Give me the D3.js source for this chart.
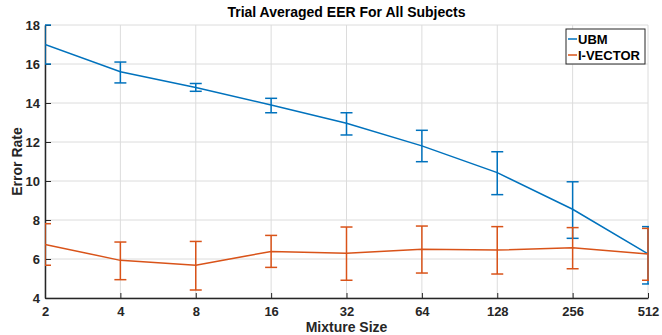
<!DOCTYPE html>
<html><head><meta charset="utf-8">
<script src="https://cdn.jsdelivr.net/npm/d3@7"></script>
<style>body{margin:0;background:#fff}svg{display:block}text{font-family:"Liberation Sans",Arial,sans-serif;font-weight:bold}</style>
</head><body><svg id="c" width="662" height="335"></svg>
<script>
const mixtureSizes = [2, 4, 8, 16, 32, 64, 128, 256, 512];
const ubmMean  = [17.0, 15.6, 14.8, 13.9, 12.96, 11.8, 10.43, 8.55, 6.26];
const ubmUpper = [18.0, 16.1, 15.0, 14.24, 13.5, 12.6, 11.5, 9.96, 7.66];
const ubmLower = [16.0, 15.03, 14.6, 13.5, 12.36, 10.99, 9.3, 7.06, 4.72];
const ivMean   = [6.75, 5.93, 5.68, 6.39, 6.29, 6.5, 6.46, 6.58, 6.26];
const ivUpper  = [7.81, 6.87, 6.9, 7.21, 7.64, 7.69, 7.66, 7.61, 7.57];
const ivLower  = [5.68, 4.94, 4.41, 5.57, 4.91, 5.28, 5.23, 5.5, 4.91];
const yTicks = [4, 6, 8, 10, 12, 14, 16, 18];
const seriesNames = ["UBM", "I-VECTOR"];
const seriesColors = ["#0072BD", "#D95319"];

const svg = d3.select("#c");
const L = 45, R = 648, T = 25, B = 298;
const x = d3.scaleLog().base(2).domain([2, 512]).range([L, R]);
const y = d3.scaleLinear().domain([4, 18]).range([B, T]);

// grid
const g = svg.append("g");
g.selectAll(".gx").data(mixtureSizes).enter().append("line")
  .attr("x1", d => x(d)).attr("x2", d => x(d)).attr("y1", T).attr("y2", B)
  .attr("stroke", "#dcdcdc").attr("stroke-width", 1);
g.selectAll(".gy").data(yTicks).enter().append("line")
  .attr("x1", L).attr("x2", R).attr("y1", d => y(d)).attr("y2", d => y(d))
  .attr("stroke", "#dcdcdc").attr("stroke-width", 1);

// axes
const xAxis = d3.axisBottom(x).tickValues(mixtureSizes).tickFormat(d3.format("d")).tickSizeInner(-5).tickSizeOuter(0).tickPadding(9);
const yAxis = d3.axisLeft(y).tickValues(yTicks).tickSizeInner(-6).tickSizeOuter(0).tickPadding(5);
const ax = svg.append("g").attr("transform", `translate(0,${B})`).call(xAxis);
const ay = svg.append("g").attr("transform", `translate(${L},0)`).call(yAxis);
[ax, ay].forEach(a => {
  a.select(".domain").attr("stroke", "#262626").attr("stroke-width", 1.5);
  a.selectAll(".tick line").attr("stroke", "#262626");
  a.selectAll(".tick text").attr("fill", "#262626").style("font-size", "13px").style("font-weight", "bold");
});
ay.selectAll(".tick text").attr("dy", "0.36em");

// clip
svg.append("clipPath").attr("id", "clip").append("rect")
  .attr("x", L).attr("y", T - 1).attr("width", R - L + 1).attr("height", B - T + 2);

const series = [
  {mean: ubmMean, up: ubmUpper, lo: ubmLower},
  {mean: ivMean, up: ivUpper, lo: ivLower}
];
const plot = svg.append("g").attr("clip-path", "url(#clip)");
const line = d3.line().x((d, i) => x(mixtureSizes[i])).y(d => y(d));
const cap = 6;
series.forEach((s, k) => {
  const col = seriesColors[k];
  const eg = plot.append("g").attr("stroke", col).attr("stroke-width", 1.5).attr("fill", "none");
  mixtureSizes.forEach((m, i) => {
    const cx = x(m);
    eg.append("line").attr("x1", cx).attr("x2", cx).attr("y1", y(s.up[i])).attr("y2", y(s.lo[i]));
    eg.append("line").attr("x1", cx - cap).attr("x2", cx + cap).attr("y1", y(s.up[i])).attr("y2", y(s.up[i]));
    eg.append("line").attr("x1", cx - cap).attr("x2", cx + cap).attr("y1", y(s.lo[i])).attr("y2", y(s.lo[i]));
  });
  plot.append("path").datum(s.mean).attr("d", line).attr("fill", "none").attr("stroke", col).attr("stroke-width", 1.5);
});

// title and labels
svg.append("text").attr("x", (L + R) / 2).attr("y", 17).attr("text-anchor", "middle")
  .style("font-size", "14px").attr("fill", "#000").text("Trial Averaged EER For All Subjects");
svg.append("text").attr("x", (L + R) / 2).attr("y", 332).attr("text-anchor", "middle")
  .style("font-size", "14px").attr("fill", "#262626").text("Mixture Size");
svg.append("text").attr("transform", `translate(22,${(T + B) / 2}) rotate(-90)`).attr("text-anchor", "middle")
  .style("font-size", "14px").attr("fill", "#262626").text("Error Rate");

// legend
const lg = svg.append("g").attr("transform", "translate(566,29)");
lg.append("rect").attr("x", 0).attr("y", 0).attr("width", 79).attr("height", 35)
  .attr("fill", "#fff").attr("stroke", "#262626").attr("stroke-width", 1);
seriesNames.forEach((n, i) => {
  const yy = 10 + i * 16;
  lg.append("line").attr("x1", 2).attr("x2", 11).attr("y1", yy).attr("y2", yy)
    .attr("stroke", seriesColors[i]).attr("stroke-width", 1.5);
  lg.append("text").attr("x", 12).attr("y", yy).attr("dy", "0.36em")
    .style("font-size", "13px").attr("fill", "#000").text(n);
});
</script></body></html>
